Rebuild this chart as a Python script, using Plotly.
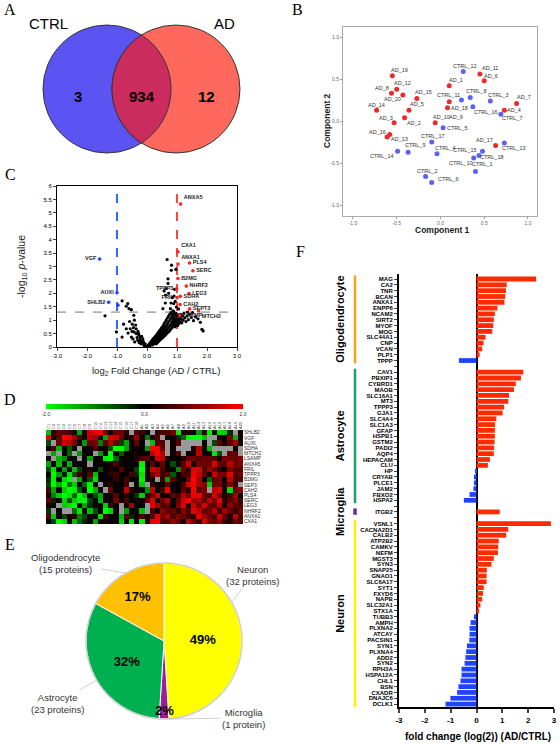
import plotly.graph_objects as go
import numpy as np

W, H = 560, 744
N = None
FONT = "Liberation Sans, Arial, sans-serif"
SERIF = "Liberation Serif, Times New Roman, serif"

# ---------------- A: Venn ----------------
venn_sets = ["CTRL", "AD"]
venn_counts = [3, 934, 12]          # CTRL only, shared, AD only

# ---------------- B: PCA ----------------
pca_ad_names = ["AD_%d" % i for i in range(1, 21)]
pca_ad_x = [0.10, -0.41, -0.53, 0.73, -0.36, 0.50, 0.87, -0.56, 0.10, -0.06,
            0.45, -0.50, -0.58, -0.73, -0.27, -0.61, 0.63, 0.08, -0.55, -0.43]
pca_ad_y = [0.42, 0.04, -0.02, 0.13, 0.13, 0.48, 0.21, 0.33, 0.23, -0.02,
            0.56, 0.38, -0.16, 0.13, 0.27, -0.19, -0.29, 0.16, 0.54, 0.31]
pca_ctrl_names = ["CTRL_%d" % i for i in range(1, 19)]
pca_ctrl_x = [0.40, -0.17, 0.57, -0.04, 0.03, -0.10, 0.69, 0.34, -0.37, 0.38,
              0.24, 0.26, 0.73, -0.49, 0.48, 0.37, -0.10, 0.44]
pca_ctrl_y = [-0.60, -0.66, 0.24, -0.39, -0.08, -0.73, 0.08, 0.28, -0.37, -0.44,
              0.25, 0.59, -0.26, -0.36, -0.36, 0.17, -0.25, -0.41]
# label offsets (pixels, right / down)
pca_ad_dx = [7, 9, -8, 10, 8, 7, 7, -9, 7, 6, 10, 6, 10, 0, 7, -10, -11, 12, 7, -10]
pca_ad_dy = [-6, 5, -5, 0, -6, -5, -6, -5, 15, -6, -6, -6, 4, -5, -6, -5, -5, 0, -6, 4]
pca_ctrl_dx = [7, 1, 8, 8, 14, 16, 11, 6, 7, -13, -13, 2, 10, -16, -17, 13, 1, 13]
pca_ctrl_dy = [-7, -6, -6, -6, 0, -3, 4, -7, -7, 5, -5, -6, 5, 5, -1, 5, -6, 1]

# ---------------- C: volcano ----------------
volc_x = [-1.40, -1.02, -0.83, -0.83, -0.69, -0.64, -0.60, -0.52, -0.44, -0.42, -0.49, -0.56, -0.69, -0.78,
          -0.63, -0.52, -0.43, -0.36, -0.36, -0.33, -0.27, -0.24, -0.19, -0.16, -0.11, -0.08, -0.04, -0.31,
          -0.41, -0.47, -0.38, -0.30, -0.22, -0.14, -0.12, -0.06, -0.20, -0.26, -0.09, -0.02, -0.58, -0.45,
          -0.50, -0.28, -0.18,
          0.01, 0.03, 0.05, 0.06, 0.08, 0.09, 0.11, 0.12, 0.14, 0.15, 0.17, 0.18, 0.19, 0.20, 0.21, 0.23,
          0.24, 0.25, 0.27, 0.28, 0.29, 0.30, 0.31, 0.32, 0.33, 0.34, 0.35, 0.36, 0.37, 0.38, 0.39, 0.40,
          0.41, 0.42, 0.43, 0.44, 0.45, 0.46, 0.47, 0.48, 0.49, 0.50, 0.51, 0.52, 0.53, 0.54, 0.55, 0.56,
          0.57, 0.58, 0.59, 0.60, 0.61, 0.62, 0.63, 0.64, 0.65, 0.66, 0.67, 0.68, 0.69, 0.70, 0.71, 0.72,
          0.73, 0.74, 0.75, 0.76, 0.77, 0.78, 0.79, 0.80, 0.81, 0.82, 0.83, 0.84, 0.85, 0.86, 0.87, 0.88,
          0.89, 0.90, 0.91, 0.92, 0.93, 0.94, 0.95, 0.96, 0.97, 0.98, 0.99, 1.00, 1.01, 1.02, 1.04, 1.05,
          1.07, 1.08, 1.10, 1.12, 1.14, 1.16, 1.18, 1.20, 1.23, 1.26, 1.30, 1.33, 1.38, 1.42, 1.48, 1.55,
          1.62, 1.70, 1.78, 1.83, 1.87, 1.52, 1.35,
          0.67, 0.82, 0.96, 0.81, 0.70, 0.57, 0.62, 0.70, 0.64, 0.84, 0.80, 0.89, 0.61, 0.53, 0.78, 0.87,
          0.98, 0.94, 1.05, 0.72, 0.92, 0.90]
volc_y = [1.16, 0.56, 0.37, 1.72, 1.52, 1.62, 1.43, 1.39, 1.18, 1.00, 0.85, 0.68, 0.68, 0.85,
          0.52, 0.37, 0.56, 0.68, 0.50, 0.35, 0.44, 0.27, 0.22, 0.15, 0.10, 0.06, 0.02, 0.25,
          0.19, 0.30, 0.82, 0.58, 0.36, 0.30, 0.20, 0.12, 0.12, 0.16, 0.04, 0.01, 0.95, 0.72,
          0.58, 0.50, 0.40,
          0.02, 0.05, 0.01, 0.08, 0.12, 0.04, 0.16, 0.07, 0.20, 0.11, 0.25, 0.14, 0.08, 0.30, 0.19, 0.12,
          0.34, 0.24, 0.17, 0.40, 0.29, 0.21, 0.12, 0.45, 0.34, 0.25, 0.17, 0.52, 0.40, 0.30, 0.21, 0.58,
          0.46, 0.35, 0.26, 0.64, 0.52, 0.40, 0.30, 0.70, 0.58, 0.45, 0.34, 0.76, 0.62, 0.50, 0.38, 0.84,
          0.68, 0.55, 0.42, 0.92, 0.74, 0.60, 0.47, 1.00, 0.80, 0.65, 0.52, 1.08, 0.88, 0.70, 0.56, 1.15,
          0.95, 0.76, 0.60, 1.22, 1.02, 0.82, 0.66, 1.28, 1.08, 0.88, 0.72, 1.15, 0.95, 0.78, 1.22, 1.02,
          0.85, 1.30, 1.08, 0.92, 0.75, 1.18, 0.98, 0.82, 1.25, 1.05, 0.90, 1.15, 0.96, 0.80, 1.20, 1.02,
          0.88, 1.12, 0.95, 1.22, 1.05, 0.90, 1.15, 1.00, 1.25, 1.08, 0.95, 1.15, 1.02, 1.22, 1.10, 0.98,
          1.12, 1.05, 0.92, 0.66, 0.60, 1.28, 1.30,
          3.26, 3.05, 2.89, 2.86, 2.54, 2.09, 1.93, 2.37, 2.18, 1.84, 1.64, 1.62, 1.64, 1.43, 1.43, 1.35,
          1.49, 1.70, 1.42, 2.00, 2.15, 1.90]
volc_up_names = ["ANXA5", "CXA1", "ANXA1", "PLS4", "SERC", "B2MG", "NHRF2", "TPPP3", "LEG3",
                 "FRIL", "SDHA", "CAH2", "SEPT3", "MTCH2", "LSAMP"]
volc_up_x = [1.12, 1.03, 1.03, 1.42, 1.53, 1.03, 1.31, 0.99, 1.40, 1.00, 1.11, 1.10, 1.42, 1.72, 1.09]
volc_up_y = [5.33, 3.55, 3.09, 3.13, 2.84, 2.55, 2.27, 2.17, 1.99, 1.84, 1.89, 1.58, 1.42, 1.34, 1.17]
volc_up_pos = ["top right", "top right", "top right", "middle right", "middle right", "middle right",
               "middle right", "middle left", "middle right", "middle left", "middle right",
               "middle right", "middle right", "bottom right", "middle right"]
volc_down_names = ["VGF", "AUXI", "SHLB2"]
volc_down_x = [-1.58, -1.00, -1.28]
volc_down_y = [3.28, 2.02, 1.67]
volc_down_unlabelled_x = [-0.97]
volc_down_unlabelled_y = [1.56]

# ---------------- D: heatmap ----------------
hm_rows = ["SHLB2", "VGF", "AUXI", "SDHA", "MTCH2", "LSAMP", "ANXA5", "FRIL", "TPPP3",
           "B2MG", "SEP3", "CAH2", "PLS4", "SERC", "LEG3", "NHRF2", "ANXA1", "CXA1"]
hm_cols = ["C%d" % i for i in range(1, 19)] + ["A%d" % i for i in range(1, 21)]
hm_ctrl = [
    [-1.5, 0.4, 0.8, 0.7, 0.6, 0.2, -1.3, 0.2, 1.6, 1.8, 2.0, 0.9, 0.1, 0.8, 0.9, 0.3, N, 0.6],
    [1.8, 0.2, 0.7, 2.0, 1.9, 1.2, 0.6, 0.1, 1.4, 1.3, 0.2, -1.3, 1.7, 1.6, 0.8, 0.1, 0.3, 1.2],
    [-0.6, N, 0.8, 1.6, 1.5, 0.9, 0.1, -1.2, 0.8, 0.9, -1.0, 0.7, 1.4, 0.8, -0.5, -1.3, 0.0, 0.8],
    [0.0, 0.6, -1.4, 0.0, -0.7, 0.1, N, 0.0, 0.1, 0.6, 0.0, 0.1, -0.6, -2.0, -2.0, -1.3, 0.0, 0.1],
    [N, -1.3, N, 0.1, -0.8, N, -1.2, 0.1, 0.0, N, -1.2, 0.0, -2.0, 0.1, -0.7, 0.0, 0.1, 0.2],
    [0.1, N, -1.4, -1.1, 0.0, 0.1, N, 0.0, -1.3, 0.0, 0.1, -1.9, -2.0, -0.8, 0.0, 0.1, 0.0, 0.2],
    [-1.3, 0.1, -1.5, 0.0, -1.4, 0.1, 0.0, 0.1, N, 0.0, 0.1, 0.0, 0.2, 0.6, 0.1, 0.0, 0.1, 0.0],
    [-0.6, -1.8, 0.0, -1.2, 0.1, -1.5, -0.5, 0.0, 0.2, 0.0, -0.6, 0.1, 0.2, 0.0, 0.7, 0.1, 0.0, -0.5],
    [0.0, -2.0, -1.2, -0.2, -1.8, -0.6, 0.5, 0.0, 0.7, -1.5, 0.0, 0.0, 0.3, 0.5, 0.1, 0.0, 0.6, -0.3],
    [-0.3, -1.9, 0.0, -1.7, -2.0, N, -1.3, 0.0, -0.6, -1.8, 0.0, 0.1, 0.0, 0.4, 0.1, 0.6, 0.0, 0.0],
    [-0.5, -2.0, -1.4, -2.0, -0.9, -1.6, 0.0, -0.8, -1.9, 0.0, N, 0.1, 0.3, 0.0, 0.0, 0.5, N, 0.0],
    [0.6, -1.3, 0.0, -1.6, -2.0, -1.9, -0.7, 0.0, -2.0, -1.3, 0.0, N, 0.8, 0.0, 0.1, 1.5, 0.2, 0.0],
    [0.2, -1.0, -1.6, -2.0, -1.8, -0.8, -2.0, -1.5, 0.0, -0.6, -1.3, 0.0, 0.1, 0.7, 0.0, 0.3, 0.0, -0.4],
    [0.8, -0.3, 0.1, -1.7, -0.6, -1.6, -1.9, -2.0, -0.5, 0.0, -1.4, 0.2, 0.0, 0.9, 0.1, 0.6, 0.0, 0.2],
    [0.1, 0.0, N, -1.6, -1.8, -2.0, 0.0, -1.3, -0.4, 0.1, 0.0, -1.6, 0.5, 0.0, N, 0.2, 1.3, 0.0],
    [-0.4, N, 0.0, N, N, -0.9, -1.8, 0.0, -1.5, -0.6, 0.1, -2.0, -1.7, 0.0, N, -1.2, 0.0, 0.1],
    [0.7, -1.6, 0.0, -0.5, 0.1, 0.3, -1.0, -0.6, 0.1, 0.0, -1.7, 0.6, 0.0, 0.1, -1.4, 0.7, -0.3, 0.0],
    [0.0, -0.5, -2.0, -1.7, 0.1, -1.5, -0.8, -0.3, 0.0, -1.3, 0.0, 0.2, 0.0, 0.1, -1.6, 0.0, -1.8, 0.1],
]
hm_ad = [
    [0.5, 0.0, N, 0.4, 0.6, 0.5, 0.9, -1.8, 0.3, 0.2, 0.1, -1.2, 0.4, -1.9, 0.0, -1.7, -1.6, -0.3, N, 0.1],
    [0.1, -1.0, 0.2, 0.6, N, -0.1, 0.1, -0.3, -0.8, -1.9, -2.0, -2.0, -1.5, N, N, 0.2, 0.0, 1.0, -1.4, 0.0],
    [0.0, N, -1.5, 0.6, 0.7, N, 0.1, 0.7, N, N, N, N, 0.0, N, -0.6, 0.8, 0.1, 0.7, 1.3, 0.1],
    [0.0, -1.2, 2.0, 1.9, 0.8, N, 0.1, N, N, N, 0.2, 1.4, 0.0, -1.5, N, N, N, N, 0.1, N],
    [0.0, 0.1, 1.5, 2.0, 1.4, N, 0.1, 0.7, N, 0.0, 0.2, 1.5, 0.1, 0.0, -1.8, -0.6, N, 0.8, 0.7, N],
    [0.6, 0.7, 0.1, 1.6, 1.5, 0.2, 0.1, 0.0, 0.3, 0.8, 0.9, 0.7, 0.8, 0.8, 0.7, 0.2, 0.9, 0.9, 0.8, 1.0],
    [-1.9, 0.0, 0.7, 0.1, 0.8, 0.0, -0.6, 0.1, 0.7, 1.6, 0.2, 0.9, 0.8, 0.9, 1.7, 0.8, 0.7, 1.5, 0.9, 1.0],
    [-2.0, 0.1, 1.6, 1.4, 0.6, 0.1, 0.0, -1.1, 0.8, 0.2, 1.8, 1.7, 0.6, 1.2, 0.8, 0.4, 0.0, 1.0, 0.7, 0.6],
    [-1.8, 0.0, 0.9, 1.3, 0.4, 0.7, -0.7, 0.0, 0.6, 0.5, 1.9, 1.5, 0.8, 0.1, 1.6, 0.8, 0.9, 1.8, 0.5, 0.9],
    [-1.9, 0.0, 0.0, N, 0.5, -1.3, 0.7, 0.2, 0.0, 0.9, 2.0, 1.3, 0.0, -0.8, 0.7, 0.9, 0.0, 1.5, 0.5, 0.6],
    [-1.6, N, 0.4, 0.1, 0.0, 0.8, 0.1, 0.0, 0.6, 1.7, 1.9, 1.3, 1.1, -1.6, 0.8, 0.9, 0.3, 1.0, 0.5, N],
    [0.0, -1.1, 1.5, 0.1, 0.5, 1.9, 0.2, 0.0, 0.8, 0.3, 2.0, 0.7, 1.0, N, 1.5, 1.7, 0.1, -1.7, 0.8, 1.1],
    [-1.6, 0.4, 0.8, 1.6, 0.1, 0.0, 0.7, 0.5, 1.4, 0.9, 1.9, 1.8, 0.8, 0.6, 1.7, 0.9, 0.2, 0.5, 1.3, 0.0],
    [0.0, 0.8, 1.7, 0.2, 0.9, 1.4, 0.1, 0.8, 1.6, 2.0, 1.1, 1.3, 0.7, 1.5, 0.9, 1.8, 0.3, 0.7, 1.0, 0.5],
    [0.0, N, 1.8, 1.3, 0.6, 0.8, 0.1, 1.0, 1.7, 0.2, 1.6, 0.9, 1.7, 0.8, 0.7, 1.4, 0.2, 1.1, 0.7, 0.6],
    [-1.5, N, 0.6, 0.1, 1.1, 0.7, 0.8, 0.3, 1.0, 0.6, 1.8, 1.5, 0.7, 0.9, 1.4, 0.5, 1.2, 0.8, 0.4, 0.9],
    [0.5, 0.2, 0.7, 1.8, 0.9, 1.3, 0.6, 1.0, 0.8, 0.5, 0.4, 1.7, 1.3, 0.9, 0.6, 1.6, 0.8, 0.2, 1.5, 0.6],
    [-1.9, 0.3, 1.8, 1.9, 0.7, 0.6, 1.2, 0.8, 0.1, 1.5, 0.9, 0.4, 1.7, 1.0, 0.8, 1.2, 0.5, 0.3, 0.9, 0.7],
]

# ---------------- E: pie ----------------
pie_labels = ["Neuron", "Microglia", "Astrocyte", "Oligodendrocyte"]
pie_pct = [49, 2, 32, 17]
pie_counts = [32, 1, 23, 15]

# ---------------- F: bars ----------------
oligo_genes = ["MAG", "CA2", "TNR", "BCAN", "ANXA1", "ENPP6", "NCAM2", "SIRT2", "MYOF", "MOG",
               "SLC44A1", "CNP", "VCAN", "PLP1", "TPPP"]
oligo_fc = [2.31, 1.17, 1.14, 1.11, 1.08, 0.81, 0.71, 0.67, 0.65, 0.61, 0.35, 0.27, 0.22, 0.12, -0.68]
astro_genes = ["CAV1", "PBXIP1", "CYBRD1", "MAOB", "SLC16A1", "MT3", "TPPP3", "GJA1", "SLC4A4",
               "SLC1A3", "GFAP", "HSPB1", "GSTM2", "PADI2", "AQP4", "HEPACAM", "CLU", "HP", "CRYAB",
               "PLCE1", "JAM2", "FBXO2", "HSPA2"]
astro_fc = [1.81, 1.72, 1.52, 1.45, 1.26, 1.23, 1.07, 1.01, 0.77, 0.72, 0.71, 0.71, 0.70, 0.68,
            0.67, 0.52, 0.44, -0.06, -0.10, -0.10, -0.12, -0.27, -0.49]
micro_genes = ["ITGB2"]
micro_fc = [0.90]
neuron_genes = ["VSNL1", "CACNA2D1", "CALB2", "ATP2B2", "CAMKV", "NEFM", "MGST3", "SYN3", "SNAP25",
                "GNAO1", "SLC6A17", "SYT1", "FXYD6", "NAPB", "SLC32A1", "STX1A", "TUBB3", "AMPH",
                "PLXNA2", "ATCAY", "PACSIN1", "SYN1", "PLXNA4", "ADD2", "SYN2", "RPH3A", "HSPA12A",
                "CHL1", "BSN", "CXADR", "DNAJC6", "DCLK1"]
neuron_fc = [2.88, 1.23, 1.15, 0.86, 0.84, 0.83, 0.67, 0.58, 0.40, 0.39, 0.39, 0.28, 0.25, 0.22,
             0.15, 0.10, -0.10, -0.23, -0.27, -0.27, -0.28, -0.37, -0.40, -0.43, -0.46, -0.58,
             -0.58, -0.62, -0.70, -0.75, -1.01, -1.20]
groups = [("Oligodendrocyte", oligo_genes, oligo_fc, "#F7A21B"),
          ("Astrocyte", astro_genes, astro_fc, "#19A36A"),
          ("Microglia", micro_genes, micro_fc, "#6B2BA8"),
          ("Neuron", neuron_genes, neuron_fc, "#FFF200")]

# =====================================================================
def xd(a, b):
    return [a / W, b / W]


def yd(top, bot):
    return [1 - bot / H, 1 - top / H]


def pp(x, y):
    return dict(x=x / W, y=1 - y / H, xref="paper", yref="paper", xanchor="center", yanchor="middle")


fig = go.Figure()
ann = []
shapes = []

# ---- A Venn (drawn as paper-space shapes, geometry in pixels) ----
V_R, V_CY, V_C1, V_C2 = 64.0, 89.0, 107.0, 176.0
edge = dict(color="#333333", width=1)
shapes.append(dict(type="circle", xref="paper", yref="paper", x0=(V_C1 - V_R) / W, x1=(V_C1 + V_R) / W,
                   y0=1 - (V_CY + V_R) / H, y1=1 - (V_CY - V_R) / H, fillcolor="#5b54f2", line=edge))
shapes.append(dict(type="circle", xref="paper", yref="paper", x0=(V_C2 - V_R) / W, x1=(V_C2 + V_R) / W,
                   y0=1 - (V_CY + V_R) / H, y1=1 - (V_CY - V_R) / H, fillcolor="#ff685d", line=edge))
half = (V_C2 - V_C1) / 2.0
a = np.arccos(half / V_R)
th = np.linspace(-a, a, 60)
ph = np.linspace(np.pi - a, np.pi + a, 60)
lx = np.concatenate([V_C1 + V_R * np.cos(th), V_C2 + V_R * np.cos(ph)])
ly = np.concatenate([V_CY - V_R * np.sin(th), V_CY - V_R * np.sin(ph)])
path = "M " + " L ".join("%.5f,%.5f" % (x / W, 1 - y / H) for x, y in zip(lx, ly)) + " Z"
shapes.append(dict(type="path", xref="paper", yref="paper", path=path, fillcolor="#cb2c5e", line=edge))
for cnt, cx in zip(venn_counts, [78, 141.5, 206]):
    ann.append(dict(**pp(cx, 96), text="<b>%d</b>" % cnt, showarrow=False, font=dict(size=15, color="black")))
ann.append(dict(**pp(48, 24), text=venn_sets[0], showarrow=False, font=dict(size=15, color="black")))
ann.append(dict(**pp(224, 24), text=venn_sets[1], showarrow=False, font=dict(size=15, color="black")))

# ---- B PCA ----
fig.add_trace(go.Scatter(x=pca_ctrl_x, y=pca_ctrl_y, mode="markers",
                         marker=dict(color="#5a62f5", size=5), xaxis="x2", yaxis="y2"))
fig.add_trace(go.Scatter(x=pca_ad_x, y=pca_ad_y, mode="markers",
                         marker=dict(color="#ec2a2a", size=5), xaxis="x2", yaxis="y2"))
for nm, xx, yy, ddx, ddy in list(zip(pca_ad_names, pca_ad_x, pca_ad_y, pca_ad_dx, pca_ad_dy)) + \
        list(zip(pca_ctrl_names, pca_ctrl_x, pca_ctrl_y, pca_ctrl_dx, pca_ctrl_dy)):
    ann.append(dict(x=xx, y=yy, xref="x2", yref="y2", text=nm, showarrow=False, xanchor="center",
                    yanchor="middle", xshift=ddx, yshift=-ddy, font=dict(size=5.5, color="#333")))
ann.append(dict(**pp(442, 230), text="<b>Component 1</b>", showarrow=False, font=dict(size=8.5, color="#222")))
ann.append(dict(**pp(327, 121), text="<b>Component 2</b>", showarrow=False, textangle=-90,
                font=dict(size=8.5, color="#222")))

# ---- C volcano ----
fig.add_trace(go.Scatter(x=volc_x, y=volc_y, mode="markers", marker=dict(color="black", size=3.2),
                         xaxis="x3", yaxis="y3"))
fig.add_trace(go.Scatter(x=volc_up_x, y=volc_up_y, mode="markers+text", text=volc_up_names,
                         texttemplate="<b>%{text}</b>", textposition=volc_up_pos,
                         textfont=dict(size=5.5, color="#222"),
                         marker=dict(color="#ff2020", size=3.6), xaxis="x3", yaxis="y3"))
fig.add_trace(go.Scatter(x=volc_down_x, y=volc_down_y, mode="markers+text", text=volc_down_names,
                         texttemplate="<b>%{text}</b>", textposition="middle left",
                         textfont=dict(size=5.5, color="#222"),
                         marker=dict(color="#2244ff", size=3.6), xaxis="x3", yaxis="y3"))
fig.add_trace(go.Scatter(x=volc_down_unlabelled_x, y=volc_down_unlabelled_y, mode="markers",
                         marker=dict(color="#2244ff", size=3.6), xaxis="x3", yaxis="y3"))
shapes.append(dict(type="line", xref="x3", yref="y3", x0=-1, x1=-1, y0=0, y1=6,
                   line=dict(color="#3366ff", width=2, dash="dash"), layer="below"))
shapes.append(dict(type="line", xref="x3", yref="y3", x0=1, x1=1, y0=0, y1=6,
                   line=dict(color="#ff4444", width=2, dash="dash"), layer="below"))
shapes.append(dict(type="line", xref="x3", yref="y3", x0=-3, x1=3, y0=1.301, y1=1.301,
                   line=dict(color="#777", width=1, dash="dash"), layer="below"))
ann.append(dict(**pp(22, 267), text="-log<sub>10</sub> <i>p</i>-value", showarrow=False, textangle=-90,
                font=dict(size=10.5, color="#222")))
ann.append(dict(**pp(156, 371), text="log<sub>2</sub> Fold Change (AD / CTRL)", showarrow=False,
                font=dict(size=9.5, color="#222")))

# ---- D heatmap ----
hm = [rc + ra for rc, ra in zip(hm_ctrl, hm_ad)]
hm_gray = [[1 if v is None else None for v in row] for row in hm]
cols_idx = list(range(len(hm_cols)))
rows_idx = list(range(len(hm_rows)))
fig.add_trace(go.Heatmap(z=hm_gray, x=cols_idx, y=rows_idx, colorscale=[[0, "#999"], [1, "#999"]],
                         showscale=False, xaxis="x4", yaxis="y4", hoverinfo="skip"))
fig.add_trace(go.Heatmap(z=hm, x=cols_idx, y=rows_idx, zmin=-2, zmax=2,
                         colorscale=[[0, "rgb(0,255,0)"], [0.5, "rgb(0,0,0)"], [1, "rgb(255,0,0)"]],
                         xaxis="x4", yaxis="y4",
                         colorbar=dict(orientation="h", x=(46 + 243) / 2 / W, xanchor="center",
                                       y=1 - 404 / H, yanchor="top", len=197 / W, lenmode="fraction",
                                       thickness=5, thicknessmode="pixels", outlinewidth=0,
                                       tickvals=[-2, 0, 2], ticktext=["-2.0", "0.0", "2.0"],
                                       tickfont=dict(size=5, color="#333"), ticks="", xpad=0, ypad=0)))

# ---- E pie ----
fig.add_trace(go.Pie(labels=pie_labels, values=pie_pct, sort=False, direction="clockwise", rotation=0,
                     marker=dict(colors=["#FFFF00", "#9B1F9B", "#00B050", "#FFC000"],
                                 line=dict(color="white", width=1)),
                     texttemplate="<b>%{value}%</b>", textposition=["inside", "none", "inside", "inside"],
                     insidetextorientation="horizontal", textfont=dict(size=13, color="black", family=FONT),
                     domain=dict(x=xd(86, 242), y=yd(563, 719)), showlegend=False, hoverinfo="skip"))
shapes.append(dict(type="circle", xref="paper", yref="paper", x0=86 / W, x1=242 / W,
                   y0=1 - 719 / H, y1=1 - 563 / H, line=dict(color="#d0d0d0", width=1.5)))
ann.append(dict(**pp(164, 710), text="<b>%d%%</b>" % pie_pct[1], showarrow=False,
                font=dict(size=13, color="black")))
pie_lbl_heads = [(232, 602), (166, 719), (97, 680), (125, 573)]
pie_lbl_offs = [(20, -27), (77, -1), (-40, 23), (-60, -10)]
for lab, cnt, (hx, hy), (ox, oy) in zip(pie_labels, pie_counts, pie_lbl_heads, pie_lbl_offs):
    unit = "protein" if cnt == 1 else "proteins"
    ann.append(dict(**pp(hx, hy), text="%s<br>(%d %s)" % (lab, cnt, unit), showarrow=True,
                    arrowhead=0, arrowwidth=0.7, arrowcolor="#bbbbbb", ax=ox, ay=oy,
                    font=dict(size=9.5, color="#333")))

# ---- F bars ----
f_labels, f_vals, spans = [], [], []
for gi, (gname, genes, fcs, col) in enumerate(groups):
    if gi > 0:
        f_labels.append("")
        f_vals.append(None)
    start = len(f_labels)
    f_labels += genes
    f_vals += fcs
    spans.append((gname, start, len(f_labels) - 1, col))
f_y = list(range(len(f_labels)))
bar_cols = ["#ff2a00" if (v is not None and v > 0) else "#1f44ff" for v in f_vals]
fig.add_trace(go.Bar(x=f_vals, y=f_y, orientation="h", width=0.82, marker=dict(color=bar_cols, line=dict(width=0)),
                     xaxis="x5", yaxis="y5"))
for gname, s, e, col in spans:
    shapes.append(dict(type="line", xref="paper", yref="y5", x0=355 / W, x1=355 / W, y0=s - 0.6, y1=e + 0.5,
                       line=dict(color=col, width=2.5 if gname != "Microglia" else 3.5)))
    ann.append(dict(x=340 / W, y=(s + e) / 2, xref="paper", yref="y5", text="<b>%s</b>" % gname,
                    xanchor="center", yanchor="middle",
                    showarrow=False, textangle=-90, font=dict(size=11, color="black")))
ann.append(dict(**pp(478, 736), text="<b>fold change (log(2)) (AD/CTRL)</b>", showarrow=False,
                font=dict(size=10, color="black")))

# ---- panel letters ----
for L, (lx, ly) in zip("ABCDEF", [(10, 10), (297, 10), (10, 174), (10, 399), (10, 544), (300, 252)]):
    ann.append(dict(**pp(lx, ly), text=L, showarrow=False, font=dict(size=16, color="black", family=SERIF)))

fig.update_layout(
    width=W, height=H, margin=dict(l=0, r=0, t=0, b=0, pad=0, autoexpand=False),
    paper_bgcolor="white", plot_bgcolor="rgba(0,0,0,0)",
    showlegend=False, font=dict(family=FONT, color="black"),
    annotations=ann, shapes=shapes,
    xaxis2=dict(domain=xd(343, 537), range=[-1.114, 1.103], anchor="y2", tickvals=[-1, -0.5, 0, 0.5, 1],
                ticktext=["-1.0", "-0.5", "0.0", "0.5", "1.0"], tickfont=dict(size=5, color="#666"),
                ticks="outside", ticklen=2, tickcolor="#999", showline=True, linecolor="#aaa", mirror=True,
                showgrid=False, zeroline=False),
    yaxis2=dict(domain=yd(27, 216), range=[-1.13, 1.12], anchor="x2", tickvals=[-1, -0.5, 0, 0.5, 1],
                ticktext=["-1.0", "-0.5", "0.0", "0.5", "1.0"], tickfont=dict(size=5, color="#666"),
                ticks="outside", ticklen=2, tickcolor="#999", showline=True, linecolor="#aaa", mirror=True,
                showgrid=False, zeroline=False),
    xaxis3=dict(domain=xd(57, 237), range=[-3, 3], anchor="y3", tickvals=[-3, -2, -1, 0, 1, 2, 3],
                ticktext=["-3.0", "-2.0", "-1.0", "0.0", "1.0", "2.0", "3.0"], tickfont=dict(size=6),
                ticks="outside", ticklen=3, showline=True, linecolor="black", linewidth=1, mirror=True,
                showgrid=False, zeroline=False),
    yaxis3=dict(domain=yd(186, 347), range=[0, 6], anchor="x3",
                tickvals=[0, 0.5, 1, 1.5, 2, 2.5, 3, 3.5, 4, 4.5, 5, 5.5, 6],
                ticktext=["0", "0.5", "1", "1.5", "2", "2.5", "3", "3.5", "4", "4.5", "5", "5.5", "6"],
                tickfont=dict(size=6), ticks="outside", ticklen=3, showline=True, linecolor="black",
                linewidth=1, mirror=True, showgrid=False, zeroline=False),
    xaxis4=dict(domain=xd(46, 243), range=[-0.5, len(hm_cols) - 0.5], anchor="y4", side="top",
                tickvals=cols_idx, ticktext=hm_cols, tickangle=-90, tickfont=dict(size=4, color="#444"),
                ticks="", showgrid=False, zeroline=False, showline=False),
    yaxis4=dict(domain=yd(430, 524), range=[len(hm_rows) - 0.5, -0.5], anchor="x4", side="right",
                tickvals=rows_idx, ticktext=hm_rows, tickfont=dict(size=5, color="#333"),
                ticks="", showgrid=False, zeroline=False, showline=False),
    xaxis5=dict(domain=xd(399, 554), range=[-3, 3], anchor="y5", tickvals=[-3, -2, -1, 0, 1, 2, 3],
                ticktext=["<b>%d</b>" % v for v in [-3, -2, -1, 0, 1, 2, 3]], tickfont=dict(size=8),
                ticks="outside", ticklen=4, tickwidth=1.5, showline=True, linewidth=2, linecolor="black",
                zeroline=True, zerolinecolor="black", zerolinewidth=2, showgrid=False),
    yaxis5=dict(domain=yd(274, 707), range=[len(f_labels) - 0.5, -0.86], anchor="x5", tickvals=f_y,
                ticktext=["<b>%s</b>" % s for s in f_labels], tickfont=dict(size=6), ticks="outside",
                ticklen=3, tickwidth=1.2, showline=True, linewidth=2, linecolor="black",
                showgrid=False, zeroline=False),
)
for ax in ["xaxis2", "yaxis2", "xaxis3", "yaxis3", "xaxis4", "yaxis4", "xaxis5", "yaxis5"]:
    fig.layout[ax].automargin = False

fig.write_html("out.html", config={"displayModeBar": False},
               post_script="document.body.style.margin='0px';document.body.style.padding='0px';"
                           "document.documentElement.style.margin='0px';")
